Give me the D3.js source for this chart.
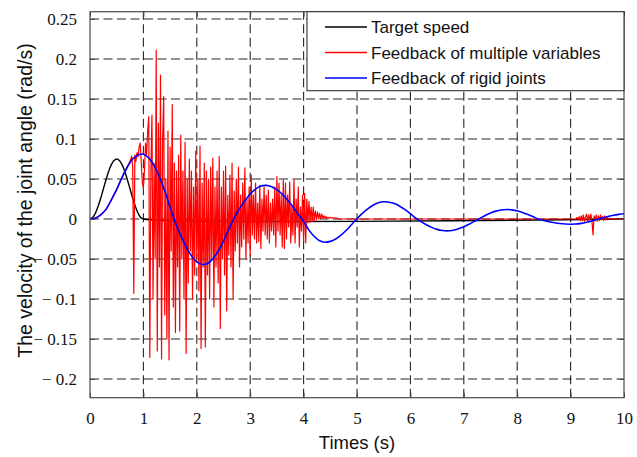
<!DOCTYPE html>
<html><head><meta charset="utf-8">
<script src="https://cdn.jsdelivr.net/npm/d3@7"></script>
<style>
body{margin:0;background:#fff;}
svg{display:block;}
.serif{font-family:"Liberation Serif","DejaVu Serif","Times New Roman",Times,serif !important;}
</style></head>
<body>
<svg id="chart" width="637" height="457"></svg>
<script>
// ---------- data ----------
const xTicks = [0,1,2,3,4,5,6,7,8,9,10];
const xTickLabels = ["0","1","2","3","4","5","6","7","8","9","10"];
const yTicks = [0.25,0.2,0.15,0.1,0.05,0,-0.05,-0.1,-0.15,-0.2];
const yTickLabels = ["0.25","0.2","0.15","0.1","0.05","0","\u2212 0.05","\u2212 0.1","\u2212 0.15","\u2212 0.2"];
const seriesNames = ["Target speed","Feedback of multiple variables","Feedback of rigid joints"];
const seriesColors = ["#000000","#ff0000","#0000ff"];

// Target speed (black): t = 0..1 step 0.05, then zero to 10 s
const targetTimes = [0,0.05,0.1,0.15,0.2,0.25,0.3,0.35,0.4,0.45,0.5,0.55,0.6,0.65,0.7,0.75,0.8,0.85,0.9,0.95,1.0,10];
const targetValues = [0,0.0018,0.0072,0.0155,0.0259,0.0375,0.0491,0.0596,0.0679,0.0732,0.075,0.0732,0.0679,0.0596,0.0491,0.0375,0.0259,0.0155,0.0072,0.0018,0,0];

// Rigid joints (blue): t = 0..10 step 0.1
const rigidValues = [
 0,0.001,0.005,0.012,0.024,0.037,0.052,0.065,0.075,0.080,
 0.081,0.0764,0.0668,0.0526,0.0349,0.0148,-0.0049,-0.0207,-0.0348,-0.0461,
 -0.0537,-0.0569,-0.0556,-0.0499,-0.0403,-0.0276,-0.0127,0.0015,0.013,0.0229,
 0.0312,0.0374,0.0411,0.042,0.0404,0.0367,0.031,0.0237,0.0152,0.0058,
 -0.003,-0.0139,-0.0219,-0.0272,-0.029,-0.028,-0.025,-0.0202,-0.0141,-0.0069,
 0.0003,0.0069,0.0125,0.0171,0.0202,0.0215,0.021,0.0192,0.016,0.0117,
 0.0066,0.0011,-0.0033,-0.0072,-0.0105,-0.013,-0.0144,-0.0148,-0.0141,-0.0123,
 -0.0098,-0.0065,-0.0028,0.0006,0.0044,0.0074,0.0098,0.0113,0.0118,0.0114,
 0.0102,0.0082,0.0057,0.0028,-0.0002,-0.0018,-0.0034,-0.0047,-0.0057,-0.0063,
 -0.0065,-0.0063,-0.0055,-0.0041,-0.0024,-0.0004,0.0015,0.0032,0.0047,0.0058,
 0.0065
];
const rigidStart = 0, rigidStep = 0.1;

// Multiple variables (red)
// lead: t = 0..0.6 step 0.1 (coincides with blue)
const multiLead = [0,0.001,0.005,0.012,0.024,0.037,0.052];
// burst: t = 0.70 .. 4.70 step 0.02
const multiBurst = [
 0.066,0.068,0.071,0.074,0.079,0.064,-0.093,0.080,0.072,0.083,
 0.078,0.090,0.095,0.070,0.045,0.039,0.060,0.095,0.080,0.110,
 0.128,-0.173,0.060,0.130,-0.100,0.070,-0.050,0.211,-0.165,0.120,
 -0.060,0.180,-0.175,0.100,0.153,-0.120,0.050,-0.150,0.110,-0.176,
 0.090,-0.040,0.143,-0.110,0.070,-0.142,0.060,-0.060,0.080,-0.140,
 0.105,-0.050,0.060,-0.100,0.096,-0.168,0.050,-0.080,0.075,-0.040,
 0.060,-0.100,0.040,-0.070,0.085,-0.050,0.050,-0.090,0.091,-0.162,
 0.045,-0.060,0.070,-0.160,0.060,-0.070,0.050,-0.100,0.065,-0.050,
 0.076,-0.110,0.040,-0.060,0.060,-0.080,0.078,-0.137,0.040,-0.050,
 0.060,-0.070,0.066,-0.115,0.030,-0.045,0.055,-0.060,0.070,-0.100,
 0.035,-0.040,0.050,-0.030,0.065,-0.060,0.030,-0.035,0.045,-0.025,
 0.064,-0.050,0.025,-0.030,0.040,-0.045,0.055,-0.020,0.030,-0.025,
 0.045,-0.030,0.020,-0.028,0.042,-0.037,0.025,-0.015,0.040,-0.020,
 0.030,-0.025,0.036,-0.030,0.020,-0.015,0.025,-0.020,0.040,-0.035,
 0.053,-0.015,0.045,-0.020,0.030,-0.035,0.049,-0.037,0.045,-0.025,
 0.030,-0.010,0.046,-0.030,0.015,-0.020,0.049,-0.030,0.025,-0.010,
 0.040,-0.035,0.015,-0.015,0.030,-0.028,0.032,-0.030,0.025,-0.005,
 0.022,-0.004,0.015,-0.003,0.015,-0.002,0.010,-0.001,0.009,0.000,
 0.007,0.000,0.006,0.001,0.004,0.001,0.003,0.001,0.002,0.001,
 0.002,0.001,0.0015,0.001,0.0015,0.001,0.001,0.0005,0.0005,0.0,
 0.0
];
// late ripple: t = 9.10 .. 9.74 step 0.02
const multiLate = [
 0.000,0.002,-0.001,0.003,-0.002,0.004,-0.002,0.005,-0.003,0.002,
 0.006,-0.003,0.005,-0.002,0.006,-0.003,-0.020,0.004,-0.002,0.005,
 -0.003,0.004,-0.002,0.005,-0.001,0.003,-0.002,0.004,-0.001,0.002,
 0.000,0.001,0.000
];

// ---------- build points ----------
const targetPts = targetTimes.map((t,i)=>[t,targetValues[i]]);
const rigidPts = rigidValues.map((v,i)=>[rigidStart+i*rigidStep, v]);
const multiPts = [];
multiLead.forEach((v,i)=>multiPts.push([i*0.1, v]));
multiBurst.forEach((v,i)=>multiPts.push([0.70+i*0.02, v]));
multiPts.push([9.08, 0]);
multiLate.forEach((v,i)=>multiPts.push([9.10+i*0.02, v]));
multiPts.push([10, 0]);

// ---------- layout ----------
const W = 637, H = 457;
const pL = 90, pR = 624, pT = 11.7, pB = 397.7;
const svg = d3.select("#chart");
svg.append("rect").attr("width",W).attr("height",H).attr("fill","#fff");

const x = d3.scaleLinear().domain([0,10]).range([pL,pR]);
const y = d3.scaleLinear().domain([-0.2234,0.2591]).range([pB,pT]);

// grid
const gridColor = "#262626";
const grid = svg.append("g");
grid.selectAll("line.vx").data(xTicks.slice(1,-1)).enter().append("line")
  .attr("x1",d=>x(d)).attr("x2",d=>x(d)).attr("y1",pB).attr("y2",pT)
  .attr("stroke",gridColor).attr("stroke-width",1.1).attr("stroke-dasharray","9,4.5");
grid.selectAll("line.hy").data(yTicks).enter().append("line")
  .attr("x1",pL).attr("x2",pR).attr("y1",d=>y(d)).attr("y2",d=>y(d))
  .attr("stroke",gridColor).attr("stroke-width",1.1).attr("stroke-dasharray","9,4.5");

// lines
svg.append("clipPath").attr("id","clip").append("rect")
  .attr("x",pL).attr("y",pT).attr("width",pR-pL).attr("height",pB-pT);
const plot = svg.append("g").attr("clip-path","url(#clip)");
const smooth = d3.line().x(d=>x(d[0])).y(d=>y(d[1])).curve(d3.curveCatmullRom);
const straight = d3.line().x(d=>x(d[0])).y(d=>y(d[1]));
plot.append("path").datum(targetPts).attr("d",smooth).attr("fill","none")
  .attr("stroke",seriesColors[0]).attr("stroke-width",1.4);
plot.append("path").datum(multiPts).attr("d",straight).attr("fill","none")
  .attr("stroke",seriesColors[1]).attr("stroke-width",1.2).attr("stroke-linejoin","round");
plot.append("path").datum(rigidPts).attr("d",smooth).attr("fill","none")
  .attr("stroke",seriesColors[2]).attr("stroke-width",1.6);

// axes box and ticks (inward, all four sides)
const axisColor = "#4a4a4a";
const serifStack = "'Liberation Serif','DejaVu Serif','Times New Roman',serif";
const axB = svg.append("g").attr("transform",`translate(0,${pB})`)
  .call(d3.axisBottom(x).tickValues(xTicks).tickSize(-5).tickFormat((d,i)=>xTickLabels[i]).tickPadding(14));
const axT = svg.append("g").attr("transform",`translate(0,${pT})`)
  .call(d3.axisTop(x).tickValues(xTicks).tickSize(-5).tickFormat(""));
const axL = svg.append("g").attr("transform",`translate(${pL},0)`)
  .call(d3.axisLeft(y).tickValues(yTicks).tickSize(-5).tickFormat((d,i)=>yTickLabels[i]).tickPadding(13));
const axR = svg.append("g").attr("transform",`translate(${pR},0)`)
  .call(d3.axisRight(y).tickValues(yTicks).tickSize(-5).tickFormat(""));
[axB,axT,axL,axR].forEach(g=>{
  g.select(".domain").remove();
  g.attr("font-family",serifStack).attr("font-size",17);
  g.selectAll(".tick line").attr("stroke",axisColor).attr("stroke-width",1);
  g.selectAll(".tick text").attr("fill","#111").attr("class","serif")
   .style("font-family",serifStack).attr("font-size",17);
});
axL.selectAll(".tick text").attr("dy","0.34em");
axB.selectAll(".tick text").attr("dy","0.71em");
svg.append("rect").attr("x",pL).attr("y",pT).attr("width",pR-pL).attr("height",pB-pT)
  .attr("fill","none").attr("stroke",axisColor).attr("stroke-width",1.2);

// legend
const lg = svg.append("g");
const lgX0 = 307, lgY0 = pT, lgW = pR-307, lgH = 79;
lg.append("rect").attr("x",lgX0).attr("y",lgY0).attr("width",lgW).attr("height",lgH)
  .attr("fill","#fff").attr("stroke","#333").attr("stroke-width",1.1);
const rowY = [27,52.5,78];
seriesNames.forEach((name,i)=>{
  lg.append("line").attr("x1",325).attr("x2",367).attr("y1",rowY[i]).attr("y2",rowY[i])
    .attr("stroke",seriesColors[i]).attr("stroke-width",1.5);
  lg.append("text").attr("x",371).attr("y",rowY[i]).attr("dy","0.36em")
    .style("font-family","'Liberation Sans',Arial,sans-serif").style("font-size","17px")
    .attr("fill","#111").text(name);
});

// axis titles
svg.append("text").attr("x",(pL+pR)/2).attr("y",449).attr("text-anchor","middle")
  .style("font-family","'Liberation Sans',Arial,sans-serif").style("font-size","18.5px")
  .attr("fill","#111").text("Times (s)");
svg.append("text").attr("transform","translate(31.5,200.5) rotate(-90)").attr("text-anchor","middle")
  .style("font-family","'Liberation Sans',Arial,sans-serif").style("font-size","19.5px")
  .attr("fill","#111").text("The velocity of the joint angle (rad/s)");
</script>
</body></html>
